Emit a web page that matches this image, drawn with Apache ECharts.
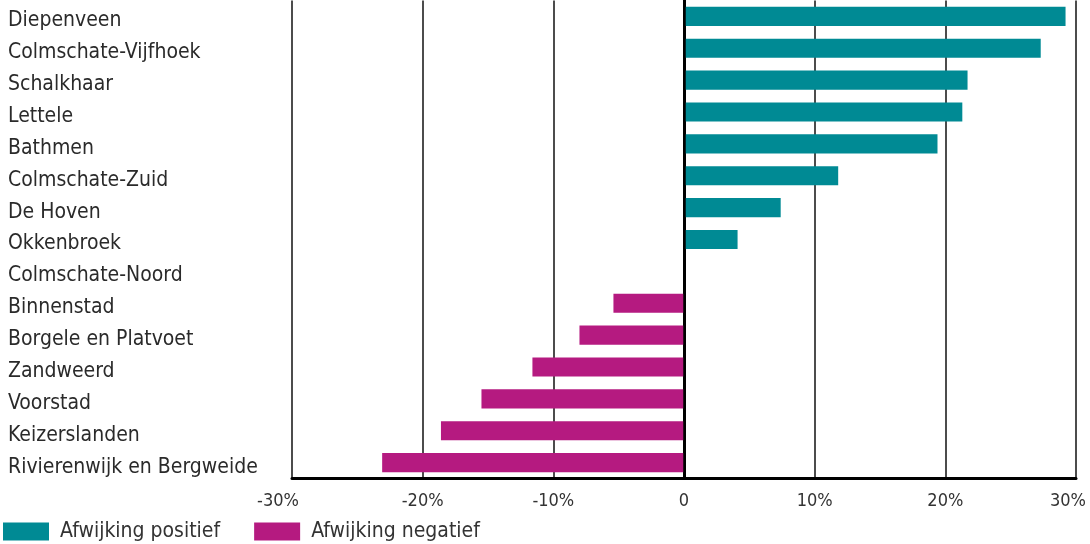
<!DOCTYPE html>
<html>
<head>
<meta charset="utf-8">
<script src="https://cdn.jsdelivr.net/npm/echarts@6/dist/echarts.min.js"></script>
<style>
html,body{margin:0;padding:0;background:#fff;}
#chart{width:1090px;height:544px;}
</style>
</head>
<body>
<div id="chart"></div>
<script>
const categories = ['Diepenveen','Colmschate-Vijfhoek','Schalkhaar','Lettele','Bathmen','Colmschate-Zuid','De Hoven','Okkenbroek','Colmschate-Noord','Binnenstad','Borgele en Platvoet','Zandweerd','Voorstad','Keizerslanden','Rivierenwijk en Bergweide'];
const positiveValues = [29.2, 27.3, 21.7, 21.3, 19.4, 11.8, 7.4, 4.1, 0, null, null, null, null, null, null];
const negativeValues = [null, null, null, null, null, null, null, null, null, -5.4, -8.0, -11.6, -15.5, -18.6, -23.1];
const xTicks = [-30, -20, -10, 0, 10, 20, 30];
const seriesNames = ['Afwijking positief', 'Afwijking negatief'];

const FONT = '"DejaVu Sans Condensed", "Liberation Sans Narrow", sans-serif';
const chart = echarts.init(document.getElementById('chart'));
chart.setOption({
  animation: false,
  textStyle: { fontFamily: FONT },
  grid: { left: 292, right: 14, top: 0.5, height: 478 },
  legend: {
    left: -2, top: 516,
    itemWidth: 46, itemHeight: 18, itemGap: 34,
    icon: 'rect',
    textStyle: { fontFamily: FONT, fontSize: 21, color: '#333', padding: [0, 0, 0, 6] },
    data: seriesNames
  },
  xAxis: {
    type: 'value', min: xTicks[0], max: xTicks[xTicks.length - 1], interval: 10,
    axisLine: { show: true, onZero: false, lineStyle: { color: '#000', width: 3 } },
    axisTick: { show: false },
    splitLine: { show: true, lineStyle: { color: '#111', width: 1.5 } },
    axisLabel: {
      margin: 14, fontSize: 18, color: '#333', fontFamily: FONT,
      formatter: function (v) {
        if (v === 0) return '0';
        if (v === -30) return '{l|' + v + '%}';
        if (v === 30) return '{r|' + v + '%}';
        return v + '%';
      },
      rich: {
        l: { fontSize: 18, color: '#333', fontFamily: FONT, padding: [0, 28, 0, 0] },
        r: { fontSize: 18, color: '#333', fontFamily: FONT, padding: [0, 16, 0, 0] }
      }
    }
  },
  yAxis: {
    type: 'category', data: categories, inverse: true,
    axisLine: { show: true, lineStyle: { color: '#000', width: 3 } },
    axisTick: { show: false },
    axisLabel: {
      align: 'left', margin: 284,
      formatter: function (v) { return '{c|' + v + '}'; },
      rich: { c: { fontSize: 21, color: '#2a2a2a', fontFamily: FONT, padding: [9, 0, 0, 0] } }
    }
  },
  series: [
    {
      name: seriesNames[0], type: 'bar', stack: 'a', data: positiveValues,
      barCategoryGap: '40%', itemStyle: { color: '#008A94' },
      markLine: {
        silent: true, symbol: 'none', label: { show: false },
        lineStyle: { color: '#000', width: 2.5, type: 'solid' },
        data: [{ xAxis: 0 }]
      }
    },
    {
      name: seriesNames[1], type: 'bar', stack: 'a', data: negativeValues,
      barCategoryGap: '40%', itemStyle: { color: '#B51A80' }
    }
  ]
});
</script>
</body>
</html>
